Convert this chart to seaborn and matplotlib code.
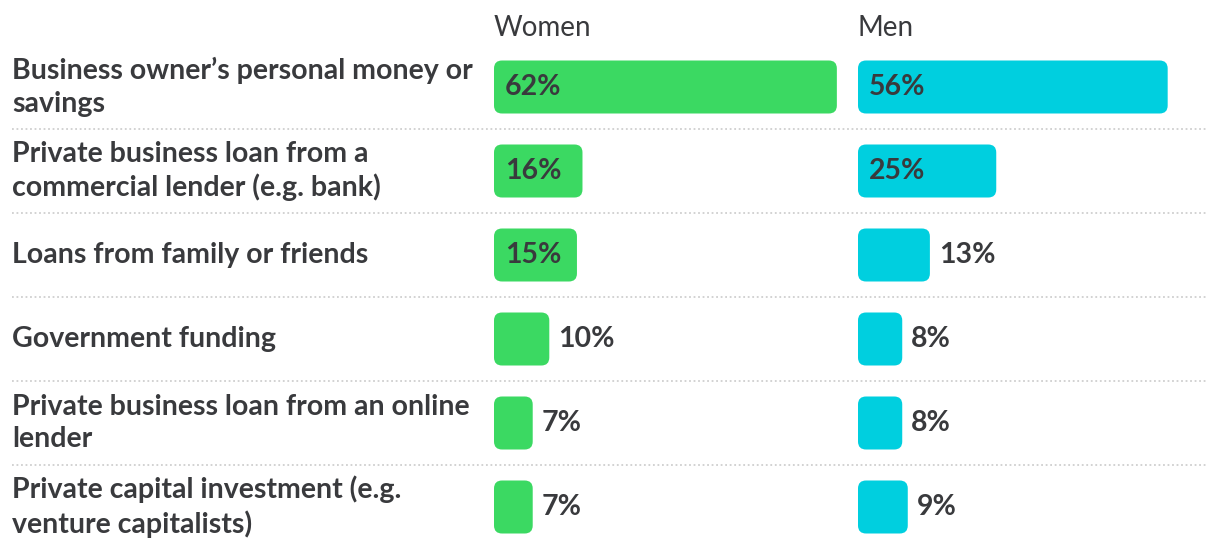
import matplotlib
matplotlib.use("Agg")
import matplotlib.pyplot as plt
import seaborn as sns
import pandas as pd
from matplotlib.patches import FancyBboxPatch
from matplotlib.transforms import blended_transform_factory

categories = [
    "Business owner\u2019s personal money or\nsavings",
    "Private business loan from a\ncommercial lender (e.g. bank)",
    "Loans from family or friends",
    "Government funding",
    "Private business loan from an online\nlender",
    "Private capital investment (e.g.\nventure capitalists)",
]
women = [62, 16, 15, 10, 7, 7]
men = [56, 25, 13, 8, 8, 9]
groups = ["Women", "Men"]
colors = ["#3BD962", "#00CFDF"]

sns.set_theme(style="white")
plt.rcParams["font.family"] = ["Lato", "DejaVu Sans"]

TXT = "#393A3D"
W, H = 1220, 552
fig = plt.figure(figsize=(12.2, 5.52), dpi=100)

px_per_unit = 5.53
xmax = 65
ax_w = xmax * px_per_unit
row_h = 84
top = 87 - row_h / 2
ax_h = row_h * 6
lefts = [494, 858]

axes = []
for gi, (g, vals, col) in enumerate(zip(groups, [women, men], colors)):
    ax = fig.add_axes([lefts[gi] / W, (H - top - ax_h) / H, ax_w / W, ax_h / H])
    df = pd.DataFrame({"category": categories, "value": vals})
    sns.barplot(data=df, x="value", y="category", orient="h", color=col,
                width=53 / row_h, ax=ax, saturation=1)
    ax.set_xlim(0, xmax)
    ax.set_ylim(5.5, -0.5)
    # rounded bars
    rx = 8 / px_per_unit
    ry = 8 / row_h
    for p in list(ax.patches):
        x0, y0, w, h = p.get_x(), p.get_y(), p.get_width(), p.get_height()
        fb = FancyBboxPatch((x0, y0), w, h,
                            boxstyle=f"round,pad=0,rounding_size={rx}",
                            mutation_aspect=ry / rx,
                            facecolor=col, edgecolor="none")
        p.remove()
        ax.add_patch(fb)
    for i, v in enumerate(vals):
        if v >= 14:
            ax.annotate(f"{v}%", (0, i), xytext=(8, 0), textcoords="offset points",
                        ha="left", va="center", fontsize=20.5, fontweight="bold",
                        color=TXT)
        else:
            ax.annotate(f"{v}%", (v, i), xytext=(6.5, 0), textcoords="offset points",
                        ha="left", va="center", fontsize=20.5, fontweight="bold",
                        color=TXT)
    ax.axis("off")
    ax.text(0, 1 + 17 / ax_h, g, transform=ax.transAxes, ha="left", va="center",
            fontsize=20, color=TXT, fontweight="normal")
    axes.append(ax)

ax0 = axes[0]
tr = blended_transform_factory(fig.transFigure, ax0.transData)
for i, c in enumerate(categories):
    ax0.text(12 / W, i, c, transform=tr, ha="left", va="center", fontsize=20.5,
             fontweight="bold", color=TXT, linespacing=1.32, clip_on=False)
for i in range(len(categories) - 1):
    ax0.plot([12 / W, 1208 / W], [i + 0.5, i + 0.5], transform=tr, clip_on=False,
             color="#CFCFCF", lw=1.3, linestyle=(0, (1, 1.5)))

fig.savefig("out.png", dpi=100, facecolor="white")
